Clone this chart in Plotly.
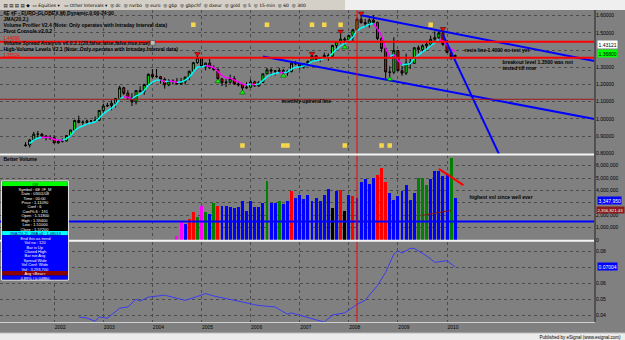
import plotly.graph_objects as go
import pandas as pd

# ------------------------------------------------------------------ data
price_start = "2001-06"
opens = [0.845, 0.848, 0.877, 0.911, 0.911, 0.900, 0.888,
         0.890, 0.860, 0.870, 0.872, 0.903, 0.935, 0.991, 0.979, 0.981, 0.987, 0.988, 0.992,
         1.049, 1.075, 1.078, 1.091, 1.118, 1.181, 1.149, 1.125, 1.099, 1.165, 1.159, 1.200,
         1.259, 1.245, 1.245, 1.230, 1.198, 1.221, 1.218, 1.203, 1.216, 1.243, 1.277, 1.327,
         1.355, 1.304, 1.324, 1.296, 1.287, 1.233, 1.210, 1.213, 1.234, 1.203, 1.199, 1.180,
         1.184, 1.215, 1.192, 1.212, 1.262, 1.285, 1.279, 1.277, 1.281, 1.268, 1.276, 1.324,
         1.320, 1.302, 1.322, 1.335, 1.367, 1.346, 1.354, 1.369, 1.365, 1.427, 1.448, 1.464,
         1.459, 1.485, 1.518, 1.579, 1.560, 1.553, 1.575, 1.561, 1.467, 1.409, 1.273, 1.271,
         1.397, 1.280, 1.266, 1.325, 1.323, 1.414, 1.404, 1.425, 1.434, 1.463, 1.472, 1.500,
         1.433, 1.386, 1.362]
highs = [0.865, 0.884, 0.925, 0.930, 0.918, 0.906, 0.905,
         0.905, 0.877, 0.886, 0.905, 0.938, 0.995, 1.019, 0.992, 0.996, 0.993, 1.014, 1.050,
         1.088, 1.093, 1.108, 1.122, 1.193, 1.187, 1.167, 1.150, 1.167, 1.190, 1.205, 1.265,
         1.290, 1.290, 1.250, 1.240, 1.231, 1.230, 1.238, 1.238, 1.246, 1.281, 1.330, 1.367,
         1.357, 1.327, 1.349, 1.311, 1.294, 1.236, 1.231, 1.257, 1.250, 1.218, 1.201, 1.213,
         1.230, 1.222, 1.220, 1.263, 1.297, 1.294, 1.285, 1.297, 1.290, 1.285, 1.325, 1.337,
         1.325, 1.325, 1.339, 1.368, 1.368, 1.355, 1.385, 1.380, 1.428, 1.453, 1.497, 1.476,
         1.488, 1.523, 1.590, 1.602, 1.580, 1.585, 1.604, 1.565, 1.477, 1.414, 1.306, 1.474,
         1.400, 1.307, 1.379, 1.349, 1.416, 1.427, 1.433, 1.446, 1.484, 1.509, 1.514, 1.512,
         1.458, 1.389, 1.375]
lows = [0.838, 0.834, 0.875, 0.890, 0.888, 0.875, 0.878,
        0.860, 0.857, 0.863, 0.868, 0.899, 0.933, 0.974, 0.961, 0.966, 0.970, 0.984, 0.987,
        1.036, 1.070, 1.050, 1.066, 1.115, 1.140, 1.113, 1.075, 1.084, 1.155, 1.140, 1.197,
        1.235, 1.240, 1.205, 1.176, 1.190, 1.200, 1.201, 1.198, 1.200, 1.225, 1.270, 1.320,
        1.298, 1.282, 1.291, 1.279, 1.230, 1.191, 1.185, 1.205, 1.198, 1.188, 1.164, 1.174,
        1.182, 1.186, 1.186, 1.210, 1.261, 1.252, 1.252, 1.270, 1.262, 1.250, 1.270, 1.312,
        1.287, 1.292, 1.308, 1.334, 1.341, 1.330, 1.352, 1.338, 1.355, 1.404, 1.438, 1.427,
        1.441, 1.450, 1.515, 1.554, 1.533, 1.530, 1.555, 1.458, 1.388, 1.233, 1.242, 1.260,
        1.278, 1.250, 1.255, 1.290, 1.322, 1.381, 1.385, 1.403, 1.424, 1.454, 1.466, 1.425,
        1.385, 1.343, 1.350]
closes = [0.848, 0.877, 0.911, 0.911, 0.900, 0.890, 0.891,
          0.860, 0.870, 0.872, 0.903, 0.935, 0.991, 0.979, 0.981, 0.987, 0.988, 0.992, 1.049,
          1.075, 1.078, 1.091, 1.118, 1.181, 1.149, 1.125, 1.099, 1.165, 1.159, 1.200, 1.259,
          1.245, 1.247, 1.230, 1.198, 1.221, 1.218, 1.203, 1.216, 1.243, 1.277, 1.327, 1.355,
          1.304, 1.324, 1.296, 1.287, 1.233, 1.210, 1.213, 1.234, 1.203, 1.199, 1.180, 1.184,
          1.215, 1.192, 1.212, 1.262, 1.285, 1.279, 1.277, 1.281, 1.268, 1.276, 1.324, 1.320,
          1.302, 1.322, 1.335, 1.367, 1.346, 1.354, 1.369, 1.365, 1.427, 1.448, 1.464, 1.459,
          1.485, 1.518, 1.579, 1.560, 1.553, 1.575, 1.561, 1.467, 1.409, 1.273, 1.271, 1.397,
          1.280, 1.266, 1.325, 1.323, 1.414, 1.404, 1.425, 1.434, 1.463, 1.472, 1.500, 1.433,
          1.386, 1.362, 1.368]

volume_start = "2004-07"
volumes_m = [0.33, 1.5, 1.3, 1.7, 2.2, 1.85, 2.7, 2.2, 2.05, 2.95, 2.7, 2.7, 2.7, 2.6, 2.55,
             2.65, 3.1, 2.3, 3.1, 2.65, 2.6, 2.95, 4.7, 2.95, 3.0, 3.1, 2.85, 3.1, 3.9, 3.35,
             3.6, 3.3, 3.6, 3.1, 3.4, 3.1, 3.6, 4.1, 2.55, 3.9, 4.0, 2.3, 3.6, 3.5, 3.4,
             4.65, 4.9, 4.5, 5.0, 5.2, 5.75, 4.65, 3.75, 3.2, 3.5, 3.95, 4.4, 3.2, 3.75,
             4.95, 4.95, 4.4, 4.9, 5.55, 5.55, 5.1, 5.3, 6.6, 3.35]
volume_class = list("mmbrrgmgbgrbbbbbbbbbbbgbbgbbrb" "bbbbbbbbkbrkbrbbbbbrrrbbbbbbbggg" "bbbbbgb")

spread_months = ["2002-07", "2002-09", "2002-11", "2002-12", "2003-02", "2003-05", "2003-07",
                 "2003-09", "2003-10", "2003-12", "2004-04", "2004-09", "2004-12", "2005-02",
                 "2005-04", "2005-10", "2006-01", "2006-03", "2006-07", "2006-10", "2006-11",
                 "2007-02", "2007-04", "2007-07", "2007-09", "2007-12", "2008-03", "2008-05",
                 "2008-08", "2008-10", "2008-12", "2009-01", "2009-02", "2009-04", "2009-05",
                 "2009-08", "2009-10", "2010-01", "2010-03"]
spread_values = [0.0391, 0.0384, 0.0364, 0.0391, 0.0384, 0.0445, 0.0453, 0.0501, 0.0489,
                 0.0514, 0.0526, 0.0494, 0.0518, 0.0536, 0.0521, 0.0489, 0.0475, 0.0462,
                 0.0453, 0.0408, 0.0416, 0.0394, 0.0384, 0.0359, 0.0403, 0.0416, 0.0469,
                 0.0495, 0.0586, 0.0668, 0.0781, 0.0801, 0.0787, 0.0816, 0.0816, 0.0770,
                 0.0730, 0.0740, 0.0700]

resistance_levels = [1.44899, 1.35524]
support_level = 1.114
vol_avg_level = 1.5e6
cursor_month = "2008-03"

upper_channel = (["2008-04", "2013-01"], [1.602, 1.337])
lower_channel = (["2006-04", "2013-01"], [1.363, 1.000])
steep_line = (["2009-12", "2011-02"], [1.490, 0.780])
vol_arrow = (["2009-11", "2010-05"], [5.74e6, 4.43e6])
vol_avg_seg = (["2009-07", "2010-02"], [1.99e6, 2.38e6])

top_signals = ["2004-12", "2007-04", "2007-11", "2008-04", "2009-12"]
bottom_signals = ["2005-05", "2005-11", "2006-09", "2007-12", "2008-11"]
profile_top = ["2004-11", "2006-05", "2007-04", "2007-07", "2007-11", "2009-09"]
profile_bottom = ["2005-11", "2006-09", "2006-10", "2007-12", "2008-09", "2008-11"]
profile_top_level = 1.548
profile_bottom_level = 0.845

year_labels = ["2002", "2003", "2004", "2005", "2006", "2007", "2008", "2009", "2010"]
price_ticks = [0.8, 0.9, 1.0, 1.1, 1.2, 1.3, 1.4, 1.5, 1.6]
price_ticks_hidden = [1.4]          # covered by value boxes in the reference
volume_ticks = [0, 1e6, 2e6, 3e6, 4e6, 5e6, 6e6]
volume_ticks_hidden = [3e6]
spread_ticks = [0.04, 0.05, 0.06, 0.07, 0.08]
spread_ticks_hidden = [0.07]


def mi(s):
    y, m = s.split("-")
    return (int(y) - 2002) * 12 + int(m) - 1


n = len(closes)
px_x = [mi(price_start) + i for i in range(n)]
vx = [mi(volume_start) + i for i in range(len(volumes_m))]
vol_colors = {"b": "#0000ff", "r": "#ff0000", "g": "#008000", "m": "#ff00ff", "k": "#000000"}

# JMA-style smoothing of the closes
jma = pd.Series(closes).ewm(alpha=0.35, adjust=False).mean().tolist()

# ------------------------------------------------------------------ figure
W, H = 595.0, 322.0
PX = lambda x: x / W
PY = lambda y: 1 - y / H
BG = "#808080"
GRID = "#4c4c4c"

fig = go.Figure()

fig.add_trace(go.Candlestick(
    x=px_x, open=opens, high=highs, low=lows, close=closes,
    increasing=dict(line=dict(color="black", width=1), fillcolor="#00ff00"),
    decreasing=dict(line=dict(color="black", width=1), fillcolor="#ff0000"),
    whiskerwidth=0, xaxis="x", yaxis="y", showlegend=False, hoverinfo="skip"))

# JMA coloured by direction
cx, cy, mx, my = [], [], [], []
for i in range(2, n):
    seg_x, seg_y = [px_x[i - 1], px_x[i], None], [jma[i - 1], jma[i], None]
    if jma[i] >= jma[i - 1]:
        cx += seg_x; cy += seg_y
    else:
        mx += seg_x; my += seg_y
fig.add_trace(go.Scatter(x=cx, y=cy, mode="lines", line=dict(color="#00ffff", width=1.5),
                         xaxis="x", yaxis="y", showlegend=False, hoverinfo="skip"))
fig.add_trace(go.Scatter(x=mx, y=my, mode="lines", line=dict(color="#ff00ff", width=1.5),
                         xaxis="x", yaxis="y", showlegend=False, hoverinfo="skip"))

# trend lines
for xs, ys in (upper_channel, lower_channel, steep_line):
    fig.add_trace(go.Scatter(x=[mi(s) for s in xs], y=ys, mode="lines",
                             line=dict(color="#0000ff", width=2), xaxis="x", yaxis="y",
                             showlegend=False, hoverinfo="skip"))

# signals
hi_map = dict(zip(px_x, highs)); lo_map = dict(zip(px_x, lows))
fig.add_trace(go.Scatter(x=[mi(s) for s in top_signals], y=[hi_map[mi(s)] + 0.012 for s in top_signals],
                         mode="markers", marker=dict(symbol="triangle-down", size=5, color="#ff0000",
                                                     line=dict(color="#400000", width=0.5)),
                         xaxis="x", yaxis="y", showlegend=False, hoverinfo="skip"))
fig.add_trace(go.Scatter(x=[mi(s) for s in bottom_signals], y=[lo_map[mi(s)] - 0.012 for s in bottom_signals],
                         mode="markers", marker=dict(symbol="triangle-up", size=5, color="#00ff00",
                                                     line=dict(color="#004000", width=0.5)),
                         xaxis="x", yaxis="y", showlegend=False, hoverinfo="skip"))
fig.add_trace(go.Scatter(x=[mi(s) for s in profile_top], y=[profile_top_level] * len(profile_top),
                         mode="markers", marker=dict(symbol="square", size=4.5, color="#f7d64a"),
                         xaxis="x", yaxis="y", showlegend=False, hoverinfo="skip"))
fig.add_trace(go.Scatter(x=[mi(s) for s in profile_bottom], y=[profile_bottom_level] * len(profile_bottom),
                         mode="markers", marker=dict(symbol="square", size=4.5, color="#f7d64a"),
                         xaxis="x", yaxis="y", showlegend=False, hoverinfo="skip"))

# volume
fig.add_trace(go.Bar(x=vx, y=[v * 1e6 for v in volumes_m],
                     marker=dict(color=[vol_colors[c] for c in volume_class], line=dict(width=0)),
                     width=0.72, xaxis="x", yaxis="y2", showlegend=False, hoverinfo="skip"))
fig.add_trace(go.Scatter(x=[mi(s) for s in vol_avg_seg[0]], y=vol_avg_seg[1], mode="lines",
                         line=dict(color="#8b1010", width=1), xaxis="x", yaxis="y2",
                         showlegend=False, hoverinfo="skip"))
fig.add_trace(go.Scatter(x=[mi(s) for s in vol_arrow[0]], y=vol_arrow[1], mode="lines",
                         line=dict(color="#ff0000", width=2), xaxis="x", yaxis="y2",
                         showlegend=False, hoverinfo="skip"))

# spread line
fig.add_trace(go.Scatter(x=[mi(s) for s in spread_months], y=spread_values, mode="lines",
                         line=dict(color="#3c3cf0", width=1), xaxis="x", yaxis="y3",
                         showlegend=False, hoverinfo="skip"))


def ticktexts(vals, hidden, fmt):
    return [("" if v in hidden else fmt(v)) for v in vals]


tickfont = dict(size=5, color="black", family="Liberation Sans")
common_y = dict(side="right", anchor="x", showgrid=True, gridcolor=GRID, griddash="dot",
                gridwidth=1, zeroline=False, ticks="", tickfont=tickfont, showline=False,
                fixedrange=True)
fig.update_layout(
    width=625, height=340, margin=dict(l=0, r=30, t=0, b=18),
    paper_bgcolor=BG, plot_bgcolor=BG, showlegend=False, bargap=0,
    xaxis=dict(domain=[0, 1], anchor="y3", range=[-13.245, 132.16],
               tickvals=[mi(y + "-01") for y in year_labels], ticktext=year_labels,
               ticklabelshift=6, showgrid=True, gridcolor=GRID, griddash="dot", gridwidth=1,
               zeroline=False, ticks="", tickfont=tickfont, showline=True, linecolor="#d0d0d0",
               rangeslider=dict(visible=False)),
    yaxis=dict(domain=[PY(154.3), PY(10)], range=[0.7942, 1.6331], tickvals=price_ticks,
               ticktext=ticktexts(price_ticks, price_ticks_hidden, lambda v: "%.5f" % v), **common_y),
    yaxis2=dict(domain=[PY(241), PY(155.3)], range=[-0.08e6, 6.83e6], tickvals=volume_ticks,
                ticktext=ticktexts(volume_ticks, volume_ticks_hidden, lambda v: "{:,d}".format(int(v))),
                **common_y),
    yaxis3=dict(domain=[0, PY(242)], range=[0.03597, 0.08558], tickvals=spread_ticks,
                ticktext=ticktexts(spread_ticks, spread_ticks_hidden, lambda v: "%.2f" % v), **common_y),
)

shapes = []
def rect(x0, y0, x1, y1, fill, line=None, lw=0):
    shapes.append(dict(type="rect", xref="paper", yref="paper", x0=PX(x0), x1=PX(x1),
                       y0=PY(y0), y1=PY(y1), fillcolor=fill, layer="above",
                       line=dict(color=line or fill, width=lw)))
def hline_paper(y, color, w, x0=0, x1=595):
    shapes.append(dict(type="line", xref="paper", yref="paper", x0=PX(x0), x1=PX(x1),
                       y0=PY(y), y1=PY(y), line=dict(color=color, width=w), layer="above"))

# level lines
for lv in resistance_levels:
    shapes.append(dict(type="line", xref="paper", yref="y", x0=0, x1=1, y0=lv, y1=lv,
                       line=dict(color="#ff0000", width=2)))
shapes.append(dict(type="line", xref="paper", yref="y", x0=0, x1=1, y0=support_level,
                   y1=support_level, line=dict(color="#a01818", width=1)))
shapes.append(dict(type="line", xref="paper", yref="y2", x0=0, x1=1, y0=vol_avg_level,
                   y1=vol_avg_level, line=dict(color="#0000ff", width=2)))
shapes.append(dict(type="line", xref="x", yref="paper", x0=mi(cursor_month), x1=mi(cursor_month),
                   y0=0, y1=PY(10), line=dict(color="#ff0000", width=1)))
# panel separators and frame
hline_paper(154.6, "#f4f4f4", 2)
hline_paper(240.8, "#f4f4f4", 2)
shapes.append(dict(type="line", xref="paper", yref="paper", x0=1, x1=1, y0=0, y1=PY(10),
                   line=dict(color="#505050", width=2)))
# toolbar & footer
rect(0, 0, 345, 10, "#d4d0c8")
rect(345, 0, 625, 10, "#efefef")
rect(0, 333, 625, 340, "#ececec")
hline_paper(333, "#bdbdbd", 1, 0, 625)
# info box
rect(1.7, 181, 68.3, 280, "#000000", "#ffffff", 1)
rect(2.2, 181.5, 67.8, 186.3, "#00ff00")
rect(2.2, 186.3, 67.8, 231, "#000000")
rect(2.2, 231, 67.8, 235.3, "#00ffff")
rect(2.2, 235.3, 67.8, 271, "#0000ff")
rect(2.2, 271, 67.8, 275.5, "#8b0000")
rect(2.2, 275.5, 67.8, 279.5, "#0000ff")
rect(150.5, 40.5, 155, 45, "#c0c0c0", "#404040", 0.5)
fig.update_layout(shapes=shapes)

def txt(x, y, s, size=5, color="black", xanchor="left", bg=None, bold=False, fam="Liberation Sans"):
    fig.add_annotation(xref="paper", yref="paper", x=PX(x), y=PY(y),
                       text=("<b>%s</b>" % s) if bold else s, showarrow=False,
                       xanchor=xanchor, yanchor="middle", bgcolor=bg, borderpad=0.5,
                       font=dict(size=size, color=color, family=fam))

# toolbar text
txt(2, 5, "▤ ▤ ▤ ▤ ◆  ▭ Equities ▾   ▭ Other Intervals ▾  ◎ dc  ◎ nvrbo  ◎ euro  ◎ gbp  ◎ gbpchf  "
          "◎ dxeur  ◎ gold  ◎ 5  ◎ 15-min  ◎ 60  ◎ 300", size=4.5, fam="DejaVu Sans")

# legend texts
txt(2, 12.7, "6E #F - EURO-GLOBEX,M) Dynamic,0:00-24:00", bold=True)
txt(2, 18.7, "JMA(20,2,)", bold=True)
txt(2, 24.7, "Volume Profiler V2.4 (Note: Only operates with Intraday Interval data)", bold=True)
txt(2, 30.7, "Pivot Console v2.0.2", bold=True)
txt(2, 38.2, "1.44899", color="#ff0000", size=4.5)
txt(2, 42.7, "Volume Spread Analysis v6.0.3.1(20,false,false,false,true,true)", bold=True)
txt(2, 48.7, "High-Volume Levels V2.1 (Note: Only operates with Intraday Interval data)", bold=True)
txt(2, 54.6, "1.35524", color="#ff0000", size=4.5)

txt(463, 49, "resis line 1.4000 no test yet", bold=True)
txt(501, 61.7, "breakout level 1.3500 was not", bold=True)
txt(501, 67.3, "tested till now", bold=True)
txt(280, 100.7, "monthly uptrend line", bold=True)
txt(2, 158.5, "Better Volume", bold=True)
txt(468, 196.7, "highest vol since well ever", bold=True)

# right-axis value boxes
txt(597, 44.3, "1.43121", bg="#ffffff")
txt(597, 53.7, "1.36800", bg="#00ff00")
txt(597, 200.5, "3,347,950", color="#ffffff", bg="#0000ff")
txt(624.5, 209.8, "2,356,821.43", size=4.3, color="#ffffff", bg="#8b1a1a", xanchor="right")
txt(597, 266.7, "0.07004", color="#ffffff", bg="#0000ff")

# info box text
txt(35, 183.9, "Off", size=4, xanchor="center")
info_black = ["Symbol : 6E #F_M", "Date : 03/01/08", "Time : 00:00", "Price : 1.11090",
              "Conf : 6", "Conf% 6 : 191", "Open : 1.51800", "High : 1.59400",
              "Low : 1.51000", "Close : 1.57200"]
for i, s in enumerate(info_black):
    txt(35, 188.6 + i * 4.45, s, size=4, color="#ffffff", xanchor="center")
txt(35, 233.2, "JMA(20,2)  JMA all : 1.48019", size=4, color="#000080", xanchor="center")
info_blue = ["End this as trend", "Vol no : 120", "Bar is Up", "Closed High", "Bar not Avg",
             "Spread Wide", "Vol Conf: Wide", "Vol : 3,293,700"]
for i, s in enumerate(info_blue):
    txt(35, 237.6 + i * 4.45, s, size=4, color="#ffffff", xanchor="center")
txt(35, 273.2, "Avg <Bear>", size=4, color="#ffffff", xanchor="center")
txt(35, 277.6, "4.89% | 0.04860", size=4, color="#ffffff", xanchor="center")

txt(623, 336.5, "Published by eSignal (www.esignal.com)", size=4.5, xanchor="right")

fig.write_html("out.html")
